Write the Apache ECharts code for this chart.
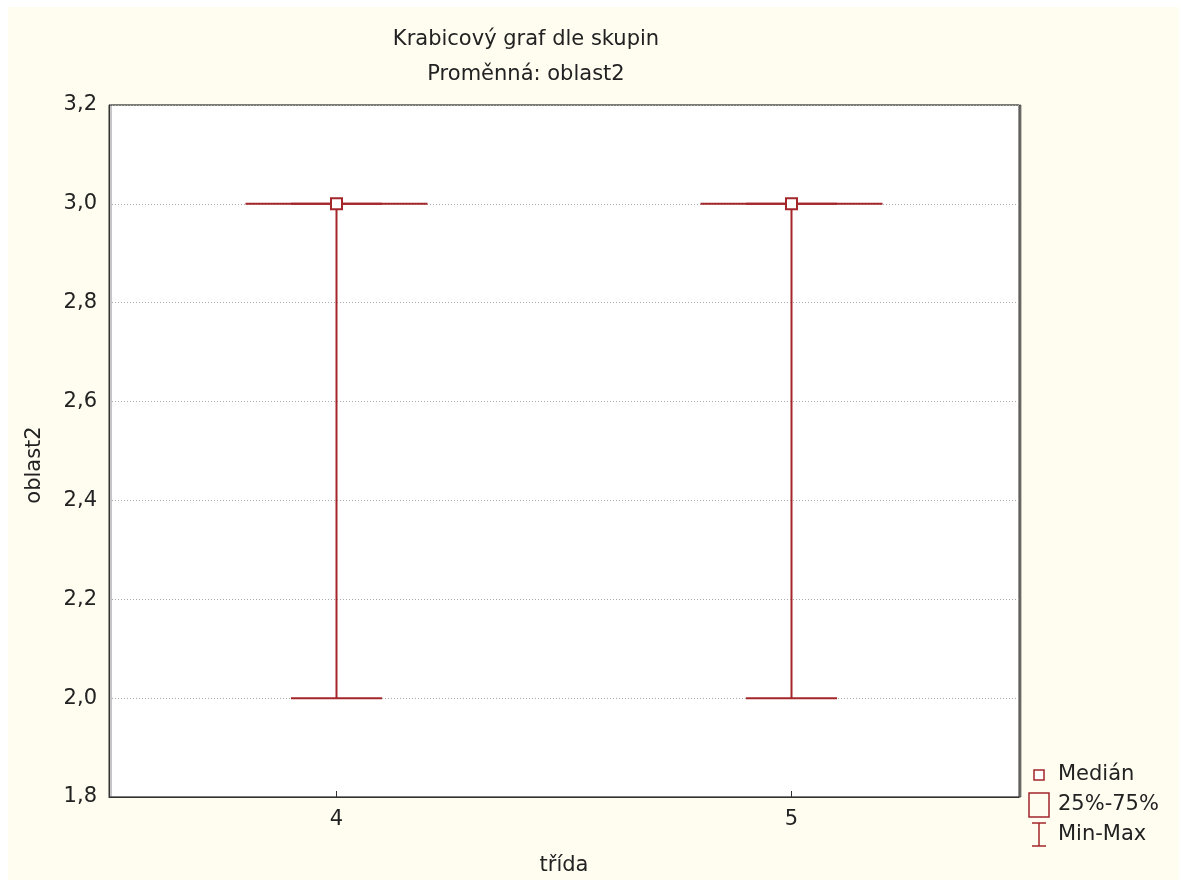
<!DOCTYPE html>
<html>
<head>
<meta charset="utf-8">
<script src="https://cdn.jsdelivr.net/npm/echarts@6/dist/echarts.min.js"></script>
<style>html,body{margin:0;padding:0;background:#fff;}#c{width:1179px;height:882px;}</style>
</head>
<body>
<div id="c"></div>
<script>
const categories = ['4', '5'];
const minValues = [2.0, 2.0];
const q1Values = [3.0, 3.0];
const medianValues = [3.0, 3.0];
const q3Values = [3.0, 3.0];
const maxValues = [3.0, 3.0];
const yTicks = [1.8, 2.0, 2.2, 2.4, 2.6, 2.8, 3.0, 3.2];

const RED = '#a3262b';
const TXT = '#222';
const FONT = 'DejaVu Sans, sans-serif';
const FS = 21;

const boxData = categories.map((c, i) => [i, minValues[i], q1Values[i], medianValues[i], q3Values[i], maxValues[i]]);

const chart = echarts.init(document.getElementById('c'));
chart.setOption({
  backgroundColor: '#fffcf0',
  animation: false,
  title: {
    text: 'Krabicový graf dle skupin\nProměnná: oblast2',
    left: 521, textAlign: 'center', top: 17,
    textStyle: { fontFamily: FONT, fontSize: FS, fontWeight: 'normal', color: TXT, lineHeight: 35 }
  },
  grid: {
    left: 109, top: 105, width: 910, height: 692,
    show: true, backgroundColor: '#ffffff', borderColor: '#333', borderWidth: 1,
    shadowColor: 'rgba(0,0,0,0.45)', shadowOffsetX: 2, shadowOffsetY: 0, shadowBlur: 0,
    outerBoundsMode: 'none', containLabel: false
  },
  xAxis: {
    type: 'category', data: categories, boundaryGap: true,
    name: 'třída', nameLocation: 'middle', nameGap: 58,
    nameTextStyle: { fontFamily: FONT, fontSize: FS, color: TXT },
    axisLine: { show: true, lineStyle: { color: '#333' } },
    axisTick: { show: true, inside: true, alignWithLabel: true, length: 6, lineStyle: { color: '#333' } },
    axisLabel: { fontFamily: FONT, fontSize: FS, color: TXT, margin: 12 },
    splitLine: { show: false }
  },
  yAxis: {
    type: 'value', min: yTicks[0], max: yTicks[yTicks.length - 1], interval: 0.2,
    name: 'oblast2', nameLocation: 'middle', nameGap: 64,
    nameTextStyle: { fontFamily: FONT, fontSize: FS, color: TXT, padding: [0, 28, 0, 0] },
    axisLine: { show: true, lineStyle: { color: '#333' } },
    axisTick: { show: false },
    axisLabel: { fontFamily: FONT, fontSize: FS, color: TXT, margin: 12,
      formatter: v => (Math.round(v * 10) / 10).toFixed(1).replace('.', ',') },
    splitLine: { show: true, lineStyle: { color: '#aaa', type: [1, 2], width: 1 } }
  },
  graphic: [
    { type: 'rect', shape: { x: 0, y: 0, width: 8, height: 882 }, style: { fill: '#fff' }, z: 100 },
    { type: 'rect', shape: { x: 0, y: 0, width: 1179, height: 7 }, style: { fill: '#fff' }, z: 100 },
    { type: 'rect', shape: { x: 0, y: 880, width: 1179, height: 2 }, style: { fill: '#fff' }, z: 100 },
    // legend
    { type: 'rect', shape: { x: 1034, y: 770, width: 10, height: 10 }, style: { fill: '#fff', stroke: RED, lineWidth: 1.5 } },
    { type: 'text', x: 1058, y: 775, style: { text: 'Medián', fontFamily: FONT, fontSize: FS, fill: TXT, verticalAlign: 'middle' } },
    { type: 'rect', shape: { x: 1029, y: 793, width: 20, height: 24 }, style: { fill: 'none', stroke: RED, lineWidth: 1.5 } },
    { type: 'text', x: 1058, y: 805, style: { text: '25%-75%', fontFamily: FONT, fontSize: FS, fill: TXT, verticalAlign: 'middle' } },
    { type: 'line', shape: { x1: 1039, y1: 823, x2: 1039, y2: 846 }, style: { stroke: RED, lineWidth: 1.5 } },
    { type: 'line', shape: { x1: 1032, y1: 823, x2: 1046, y2: 823 }, style: { stroke: RED, lineWidth: 1.5 } },
    { type: 'line', shape: { x1: 1032, y1: 846, x2: 1046, y2: 846 }, style: { stroke: RED, lineWidth: 1.5 } },
    { type: 'text', x: 1058, y: 835, style: { text: 'Min-Max', fontFamily: FONT, fontSize: FS, fill: TXT, verticalAlign: 'middle' } }
  ],
  series: [{
    type: 'custom',
    data: boxData,
    encode: { x: 0, y: [1, 2, 3, 4, 5] },
    renderItem: function (params, api) {
      const x = api.value(0);
      const pMin = api.coord([x, api.value(1)]);
      const pQ1 = api.coord([x, api.value(2)]);
      const pMed = api.coord([x, api.value(3)]);
      const pQ3 = api.coord([x, api.value(4)]);
      const pMax = api.coord([x, api.value(5)]);
      const band = api.size([1, 0])[0];
      const bw = band * 0.4;
      const cw = bw / 2;
      const cx = pMin[0];
      const st = { stroke: RED, lineWidth: 2, fill: 'none' };
      const ms = 11;
      return {
        type: 'group',
        children: [
          { type: 'line', shape: { x1: cx, y1: pMin[1], x2: cx, y2: pMax[1] }, style: st },
          { type: 'line', shape: { x1: cx - cw / 2, y1: pMin[1], x2: cx + cw / 2, y2: pMin[1] }, style: st },
          { type: 'line', shape: { x1: cx - cw / 2, y1: pMax[1], x2: cx + cw / 2, y2: pMax[1] }, style: st },
          { type: 'rect', shape: { x: cx - bw / 2, y: pQ3[1], width: bw, height: pQ1[1] - pQ3[1] }, style: st },
          { type: 'rect', shape: { x: cx - ms / 2, y: pMed[1] - ms / 2, width: ms, height: ms }, style: { stroke: RED, lineWidth: 2, fill: '#fff' } }
        ]
      };
    }
  }]
});
</script>
</body>
</html>
